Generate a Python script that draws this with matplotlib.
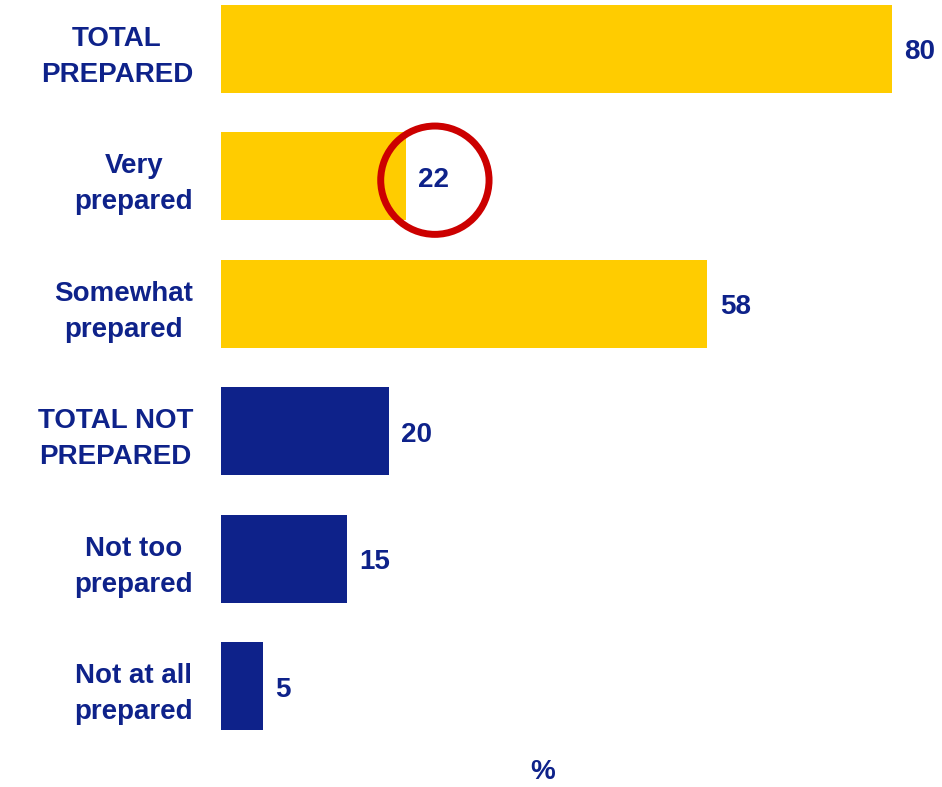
import matplotlib
matplotlib.use("Agg")
import matplotlib.pyplot as plt

# data
categories = ["TOTAL\nPREPARED", "Very\nprepared", "Somewhat\nprepared",
              "TOTAL NOT\nPREPARED", "Not too\nprepared", "Not at all\nprepared"]
values = [80, 22, 58, 20, 15, 5]
groups = ["prepared", "prepared", "prepared", "not", "not", "not"]

YELLOW = "#FFCC00"
NAVY = "#0E228A"
RED = "#CC0000"

plt.rcParams["font.family"] = ["Liberation Sans", "DejaVu Sans"]
plt.rcParams["font.weight"] = "bold"

fig = plt.figure(figsize=(9.42, 7.87), dpi=100)
ax = fig.add_axes([221 / 942, 57 / 787, (892 - 221) / 942, 725 / 787])

ypos = list(range(len(categories)))
colors = [YELLOW if g == "prepared" else NAVY for g in groups]
bars = ax.barh(ypos, values, height=0.69, color=colors)

ax.set_xlim(0, 80)
ax.set_ylim(5.345, -0.345)

ax.set_yticks(ypos)
ax.set_yticklabels(categories, fontsize=20, color=NAVY, fontweight="bold")
for lab in ax.get_yticklabels():
    lab.set_multialignment("center")
    lab.set_linespacing(1.5)
ax.tick_params(axis="y", length=0, pad=20)
ax.set_xticks([])
for s in ax.spines.values():
    s.set_visible(False)

for y, v in zip(ypos, values):
    ax.annotate(str(v), xy=(v, y), xytext=(9, -2.5), textcoords="offset points",
                ha="left", va="center", fontsize=20, color=NAVY,
                fontweight="bold", annotation_clip=False)

# red highlight circle around the "Very prepared" value
ax.scatter([25.5], [1.03], s=78 ** 2, facecolors="none", edgecolors=RED,
           linewidths=5, clip_on=False, zorder=5)

fig.text(543 / 942, 15 / 787, "%", ha="center", va="center", fontsize=20,
         color=NAVY, fontweight="bold")

fig.savefig("out.png", dpi=100)
